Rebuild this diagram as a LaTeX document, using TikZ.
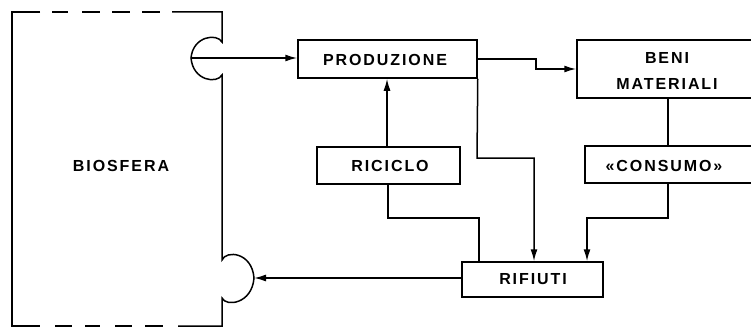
\documentclass[tikz,border=0pt]{standalone}
\usepackage{fontspec}
\newfontfamily\labfont{Liberation Sans}[LetterSpace=12]
\usetikzlibrary{arrows.meta}
\begin{document}
\begin{tikzpicture}[x=1pt,y=-1pt,
  line width=1.5pt,
  box/.style={draw, line width=1.5pt, rectangle, inner sep=0pt},
  lab/.style={font=\labfont\bfseries\fontsize{16}{19}\selectfont, inner sep=0pt, align=center, text=black},
  conn/.style={line width=1.5pt, line join=miter},
  arr/.style={conn, -{Latex[length=12pt,width=7pt]}}]
\useasboundingbox (0,0) rectangle (751,329);
\clip (0,0) rectangle (751,329);
% BIOSFERA boundary
\draw[line width=1.5pt] (40,12) -- (12,12) -- (12,326) -- (40,326);
\draw[line width=1.5pt] (52,12)--(68,12) (82,12)--(100,12) (112,12)--(130,12) (142,12)--(160,12);
\draw[line width=1.5pt] (55,326)--(72,326) (85,326)--(100,326) (115,326)--(132,326) (145,326)--(163,326);
\draw[line width=1.5pt] (172,12) -- (222,12) -- (222,42)
  .. controls (217,33) and (193,36) .. (191,58)
  .. controls (193,81) and (217,84) .. (222,75)
  -- (222,260)
  .. controls (226,250) and (252,252) .. (254,278)
  .. controls (252,304) and (226,307) .. (222,298)
  -- (222,326) -- (178,326);
\coordinate (bioout) at (191,58);
\coordinate (bioin) at (254,278);
\node[lab] (biosfera) at (121,166) {BIOSFERA};
% boxes
\node[box, minimum width=179pt, minimum height=38pt] (prod) at (387.5,59) {};
\node[lab] (prodt) at (385,60) {PRODUZIONE};
\node[box, minimum width=200pt, minimum height=58pt] (beni) at (677,69) {};
\node[lab] (benit) at (667,71) {BENI\\[7pt]MATERIALI};
\node[box, minimum width=200pt, minimum height=37pt] (cons) at (685,164.5) {};
\node[lab] (const) at (664,166) {«CONSUMO»};
\node[box, minimum width=143pt, minimum height=37pt] (ric) at (388.5,165.5) {};
\node[lab] (rict) at (390,166) {RICICLO};
\node[box, minimum width=141pt, minimum height=35pt] (rif) at (532.5,279.5) {};
\node[lab] (rift) at (533,279) {RIFIUTI};
% connectors
\draw[arr] (bioout) -- (prod.west |- bioout);
\draw[arr] (prod.east |- 0,59) -- (536,59) -- (536,69) -- (beni.west |- 0,69);
\draw[conn] (beni.south -| 668,0) -- (cons.north -| 668,0);
\draw[arr] (cons.south -| 668,0) -- (668,218) -- (587,218) -- (rif.north -| 587,0);
\draw[arr] (prod.south east) -- (477,158) -- (534,158) -- (rif.north -| 534,0);
\draw[arr] (ric.north -| 387,0) -- (prod.south -| 387,0);
\draw[conn] (ric.south -| 388,0) -- (388,218) -- (479,218) -- (rif.north -| 479,0);
\draw[arr] (rif.west |- 0,278) -- (bioin);
\end{tikzpicture}
\end{document}
